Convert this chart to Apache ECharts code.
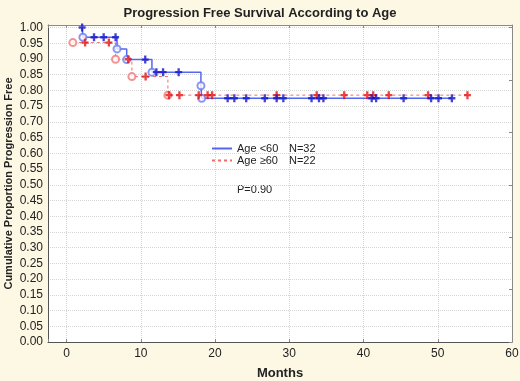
<!DOCTYPE html>
<html>
<head>
<meta charset="utf-8">
<script src="https://cdn.jsdelivr.net/npm/echarts@6/dist/echarts.min.js"></script>
<style>
  html, body { margin: 0; padding: 0; background: #fdf8e4; }
  #chart { width: 520px; height: 381px; }
</style>
</head>
<body>
<div id="chart"></div>
<script>
// Kaplan-Meier steps: [month, proportion]
var youngSteps = [[2.1, 1.0], [2.2, 0.969], [6.8, 0.932], [8.1, 0.898], [11.5, 0.858], [18.1, 0.815], [18.2, 0.775], [51.9, 0.775]];
var oldSteps = [[0.85, 0.952], [6.6, 0.899], [8.8, 0.844], [13.65, 0.785], [54.0, 0.785]];

// events (hollow circles)
var youngEvents = [[2.2, 0.969], [6.8, 0.932], [8.1, 0.898], [11.5, 0.858], [18.1, 0.815], [18.2, 0.775]];
var oldEvents = [[0.85, 0.952], [6.6, 0.899], [8.8, 0.844], [13.65, 0.785]];

// censored (+)
var youngCensored = [[2.1, 1.0], [3.7, 0.969], [5.0, 0.969], [6.6, 0.969], [10.6, 0.898],
    [12.1, 0.858], [13.0, 0.858], [15.1, 0.858],
    [21.7, 0.775], [22.6, 0.775], [24.2, 0.775], [26.7, 0.775], [28.3, 0.775], [29.2, 0.775],
    [33.0, 0.775], [34.0, 0.775], [34.6, 0.775], [41.1, 0.775], [41.7, 0.775], [45.4, 0.775],
    [49.1, 0.775], [50.1, 0.775], [51.9, 0.775]];
var oldCensored = [[2.5, 0.952], [5.7, 0.952], [8.3, 0.899], [10.65, 0.844],
    [13.8, 0.785], [15.2, 0.785], [17.8, 0.785], [19.0, 0.785], [19.6, 0.785],
    [28.3, 0.785], [33.7, 0.785], [37.4, 0.785], [40.5, 0.785], [41.3, 0.785],
    [43.4, 0.785], [48.7, 0.785], [54.0, 0.785]];

var plus = 'path://M3,0 H6 V3.5 H9 V6.5 H6 V10 H3 V6.5 H0 V3.5 H3 Z';
var font = 'Liberation Sans, Arial, sans-serif';

var myChart = echarts.init(document.getElementById('chart'));

var option = {
    backgroundColor: '#fdf8e4',
    animation: false,
    title: {
        text: 'Progression Free Survival According to Age',
        left: 'center',
        top: 2,
        textStyle: { fontSize: 13, fontWeight: 'bold', color: '#222', fontFamily: font }
    },
    grid: {
        left: 48, right: 8, top: 25, bottom: 39,
        outerBoundsMode: 'none',
        containLabel: false,
        show: true, backgroundColor: '#fff', borderWidth: 0
    },
    legend: {
        orient: 'vertical',
        left: 206,
        top: 138,
        itemWidth: 20,
        itemHeight: 8,
        itemGap: 1,
        itemStyle: { opacity: 0 },
        data: ['Age <60', 'Age ≥60'],
        formatter: function (name) {
            return name === 'Age <60' ? '{a|Age <60}{b|N=32}' : '{a|Age ≥60}{b|N=22}';
        },
        textStyle: {
            fontFamily: font, fontSize: 11, color: '#222',
            rich: {
                a: { width: 52, fontSize: 11, fontFamily: font, color: '#222' },
                b: { fontSize: 11, fontFamily: font, color: '#222' }
            }
        }
    },
    graphic: [{
        type: 'text',
        left: 237,
        top: 184,
        style: { text: 'P=0.90', fontSize: 11, fontFamily: font, fill: '#222' }
    }],
    xAxis: [{
        type: 'value',
        min: -2.5,
        max: 60,
        splitNumber: 6,
        name: 'Months',
        nameLocation: 'middle',
        nameGap: 25,
        nameMoveOverlap: false,
        nameTextStyle: { fontSize: 13, fontWeight: 'bold', color: '#222', fontFamily: font },
        axisLine: { onZero: false, lineStyle: { color: '#555' } },
        axisTick: { inside: true, length: 3, lineStyle: { color: '#888' } },
        axisLabel: {
            fontSize: 12, color: '#222', fontFamily: font, margin: 6,
            formatter: function (v) { return v % 10 === 0 ? String(v) : ''; }
        },
        splitLine: { lineStyle: { color: '#d4d4d4', type: 'dotted' } }
    }, {
        type: 'value',
        position: 'top',
        min: -2.5,
        max: 60,
        splitNumber: 6,
        axisLine: { show: true, onZero: false, lineStyle: { color: '#8a8a8a' } },
        axisTick: { show: true, inside: true, length: 3, lineStyle: { color: '#888' } },
        axisLabel: { show: false },
        splitLine: { show: false }
    }],
    yAxis: [{
        type: 'value',
        min: 0,
        max: 1.008,
        interval: 0.05,
        name: 'Cumulative Proportion Progression Free',
        nameLocation: 'middle',
        nameGap: 34,
        nameMoveOverlap: false,
        nameTextStyle: { fontSize: 11, fontWeight: 'bold', color: '#222', fontFamily: font },
        axisLine: { show: true, onZero: false, lineStyle: { color: '#555' } },
        axisTick: { show: false },
        axisLabel: {
            fontSize: 12, color: '#222', fontFamily: font, margin: 5,
            formatter: function (v) { return v <= 1.0001 ? v.toFixed(2) : ''; }
        },
        splitLine: { lineStyle: { color: '#d4d4d4', type: 'dotted' } }
    }, {
        type: 'value',
        position: 'right',
        min: 0,
        max: 1.008,
        interval: 1 / 6,
        axisLine: { show: true, onZero: false, lineStyle: { color: '#8a8a8a' } },
        axisTick: { show: true, inside: true, length: 3, lineStyle: { color: '#888' } },
        axisLabel: { show: false },
        splitLine: { show: false }
    }],
    series: [
        {
            name: 'Age <60',
            type: 'line',
            step: 'end',
            symbol: 'none',
            data: youngSteps,
            lineStyle: { color: '#5566f2', width: 1.5 },
            itemStyle: { color: '#5566f2' },
            z: 2
        },
        {
            name: 'Age ≥60',
            type: 'line',
            step: 'end',
            symbol: 'none',
            data: oldSteps,
            lineStyle: { color: '#f26a6a', width: 1, type: [3, 3] },
            itemStyle: { color: '#f26a6a' },
            z: 2
        },
        {
            name: 'young events',
            type: 'scatter',
            symbol: 'emptyCircle',
            symbolSize: 7,
            data: youngEvents,
            itemStyle: { color: '#6e7cf0', borderWidth: 1 },
            z: 3
        },
        {
            name: 'old events',
            type: 'scatter',
            symbol: 'emptyCircle',
            symbolSize: 7,
            data: oldEvents,
            itemStyle: { color: '#f07878', borderWidth: 1 },
            z: 3
        },
        {
            name: 'old censored',
            type: 'scatter',
            symbol: plus,
            symbolSize: [7, 8],
            data: oldCensored,
            itemStyle: { color: '#e41414' },
            z: 4
        },
        {
            name: 'young censored',
            type: 'scatter',
            symbol: plus,
            symbolSize: [7, 8],
            data: youngCensored,
            itemStyle: { color: '#1414c8' },
            z: 5
        }
    ]
};

option && myChart.setOption(option);
</script>
</body>
</html>
